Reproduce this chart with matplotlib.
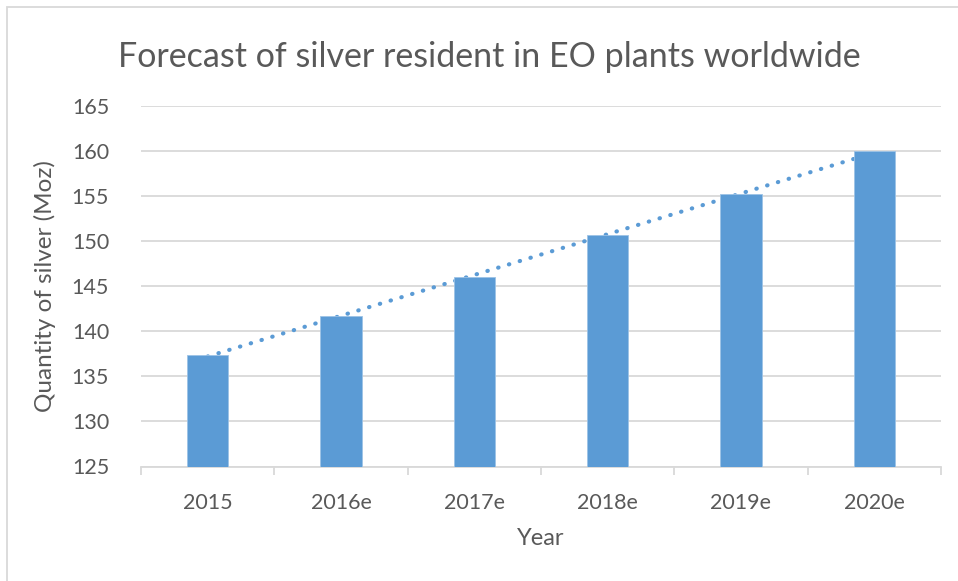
import matplotlib
matplotlib.use("Agg")
import matplotlib.pyplot as plt
import numpy as np
from matplotlib.patches import Rectangle

categories = ["2015", "2016e", "2017e", "2018e", "2019e", "2020e"]
values = [137.4, 141.7, 146.0, 150.6, 155.2, 160.0]
y_ticks = [125, 130, 135, 140, 145, 150, 155, 160, 165]

plt.rcParams['font.family'] = ['Lato', 'DejaVu Sans']
text_color = '#595959'
bar_color = '#5b9bd5'
grid_color = '#d9d9d9'

W, H = 958, 581
fig = plt.figure(figsize=(W / 100, H / 100), dpi=100)
ax = fig.add_axes([141 / W, 1 - 466.5 / H, 800 / W, 361 / H])

x = np.arange(len(categories))
ax.bar(x, values, width=0.31, color=bar_color, zorder=3,
       edgecolor='#9dc3e6', linewidth=0.6)

# linear trendline
coef = np.polyfit(x, values, 1)
xt = np.array([x[0], x[-1]])
ax.plot(xt, np.polyval(coef, xt), linestyle=(0, (0.1, 2.6)), dash_capstyle='round',
        color=bar_color, linewidth=3.0, zorder=2)

ax.set_xlim(-0.5, len(categories) - 0.5)
ax.set_ylim(y_ticks[0], y_ticks[-1])
ax.set_yticks(y_ticks)
ax.set_yticklabels([str(v) for v in y_ticks])
ax.set_xticks(x)
ax.set_xticklabels(categories)
ax.set_xticks(np.arange(-0.5, len(categories), 1.0), minor=True)

ax.grid(axis='y', color=grid_color, linewidth=1.3, zorder=0)
ax.set_axisbelow(True)
for s in ['top', 'right', 'left']:
    ax.spines[s].set_visible(False)
ax.spines['bottom'].set_color(grid_color)
ax.spines['bottom'].set_linewidth(1.3)

ax.tick_params(axis='y', length=0, pad=23, labelsize=15.5, labelcolor=text_color)
ax.tick_params(axis='x', which='major', length=0, pad=19, labelsize=15.5, labelcolor=text_color)
ax.tick_params(axis='x', which='minor', length=6, width=1.3, color=grid_color)

ax.set_xlabel("Year", fontsize=17, color=text_color, labelpad=11)
ax.set_ylabel("Quantity of silver (Moz)", fontsize=17.5, color=text_color, labelpad=11)

fig.text(489 / W, 1 - 67 / H, "Forecast of silver resident in EO plants worldwide",
         ha='center', va='baseline', fontsize=24.5, color=text_color)

# chart outer border
fig.patches.append(Rectangle((6.5 / W, -0.1), 2.0, 1 - 6.5 / H + 0.1,
                             transform=fig.transFigure, fill=False,
                             edgecolor='#d9d9d9', linewidth=1.3))

fig.savefig("out.png", dpi=100)
